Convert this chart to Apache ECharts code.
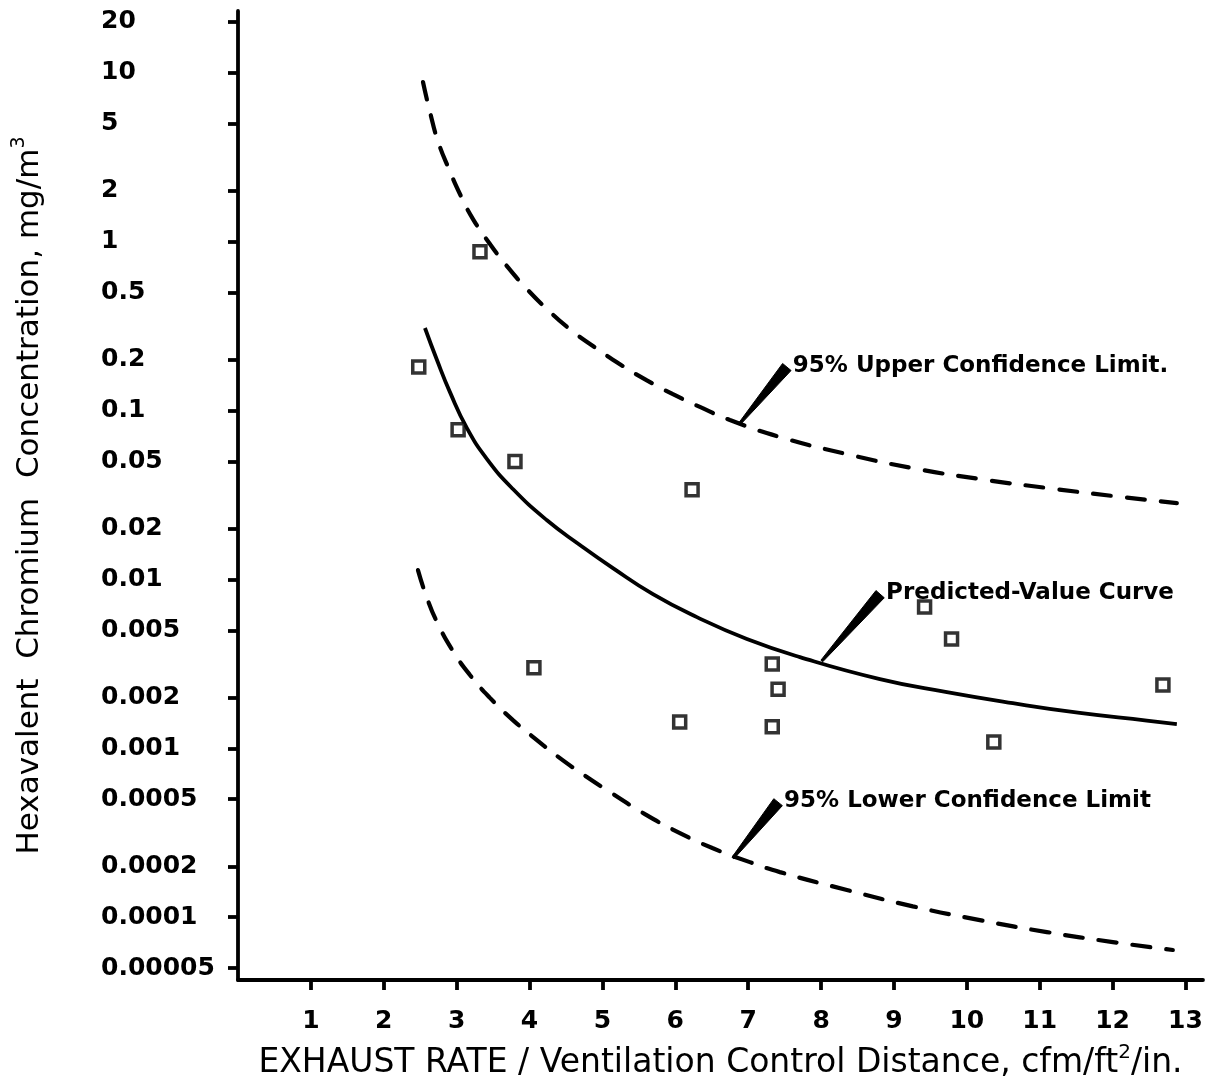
<!DOCTYPE html>
<html>
<head>
<meta charset="utf-8">
<script src="https://cdn.jsdelivr.net/npm/echarts@6/dist/echarts.min.js"></script>
<style>
html,body{margin:0;padding:0;background:#fff;}
#chart{width:1210px;height:1081px;}
</style>
</head>
<body>
<div id="chart"></div>
<script>
// ---------- data ----------
const xTicks = [1, 2, 3, 4, 5, 6, 7, 8, 9, 10, 11, 12, 13];
const yTicks = [20, 10, 5, 2, 1, 0.5, 0.2, 0.1, 0.05, 0.02, 0.01, 0.005, 0.002, 0.001, 0.0005, 0.0002, 0.0001, 0.00005];
const yTickLabels = ['20', '10', '5', '2', '1', '0.5', '0.2', '0.1', '0.05', '0.02', '0.01', '0.005', '0.002', '0.001', '0.0005', '0.0002', '0.0001', '0.00005'];

// observed concentrations (squares)
const obsX = [2.48, 3.32, 3.02, 3.80, 6.23, 4.06, 6.06, 7.33, 7.41, 7.33, 9.42, 9.79, 12.69, 10.37];
const obsY = [0.181, 0.87, 0.077, 0.050, 0.034, 0.0030, 0.00143, 0.00316, 0.00224, 0.00134, 0.00686, 0.00444, 0.00237, 0.00109];

// predicted-value curve (solid)
const predX = [2.565, 2.730, 2.908, 3.141, 3.416, 3.772, 4.239, 4.691, 5.144, 5.693, 6.296, 6.982, 7.709, 8.807, 9.726, 10.631, 11.550, 12.469, 12.881];
const predY = [0.308, 0.199, 0.1285, 0.0787, 0.0516, 0.0343, 0.0224, 0.0160, 0.01167, 0.00818, 0.00598, 0.00444, 0.00347, 0.00257, 0.00215, 0.00185, 0.00162, 0.00146, 0.00139];

// 95% upper confidence limit (dashed)
const uclX = [2.538, 2.634, 2.743, 2.894, 3.059, 3.224, 3.457, 3.690, 3.964, 4.239, 4.554, 4.870, 5.240, 5.610, 5.967, 6.337, 6.749, 7.435, 8.354, 9.259, 10.178, 11.097, 12.003, 12.881];
const uclY = [8.81, 5.85, 3.94, 2.69, 1.86, 1.36, 0.968, 0.716, 0.524, 0.399, 0.303, 0.241, 0.188, 0.151, 0.125, 0.105, 0.0879, 0.0697, 0.0552, 0.0456, 0.0393, 0.0348, 0.0312, 0.0283];

// 95% lower confidence limit (dashed)
const lclX = [2.469, 2.593, 2.743, 2.949, 3.182, 3.457, 3.772, 4.101, 4.417, 4.787, 5.103, 5.583, 6.063, 6.516, 7.023, 7.435, 8.354, 9.259, 10.178, 11.097, 12.003, 12.826];
const lclY = [0.01135, 0.00776, 0.00545, 0.00377, 0.00272, 0.00199, 0.00147, 0.00112, 0.000875, 0.000676, 0.000551, 0.000408, 0.000315, 0.000256, 0.000212, 0.000185, 0.000145, 0.000116, 0.0000962, 0.0000817, 0.0000713, 0.000064];

// callouts: pointer tip on curve -> label end
const calloutText = ['95% Upper Confidence Limit.', 'Predicted-Value Curve', '95% Lower Confidence Limit'];
const calloutTipX = [6.89, 8.01, 6.79];
const calloutTipY = [0.0843, 0.00329, 0.000224];
const calloutEndX = [7.53, 8.81, 7.41];
const calloutEndY = [0.181, 0.00818, 0.00048];

const xTitle = 'EXHAUST RATE / Ventilation Control Distance, cfm/ft{sup|2}/in.';
const yTitle = 'Hexavalent  Chromium  Concentration, mg/m{sup|3}';

// ---------- chart ----------
const zip = (a, b) => a.map((v, i) => [v, b[i]]);
const FONT = 'DejaVu Sans';
const BLACK = '#000';

const chart = echarts.init(document.getElementById('chart'), null, {renderer: 'canvas'});

const option = {
  backgroundColor: '#fff',
  animation: false,
  grid: {left: 238, right: 7, top: 11, bottom: 101, containLabel: false, outerBoundsMode: 'none'},
  xAxis: {
    type: 'value',
    min: 0,
    max: 13.24,
    axisLine: {show: true, onZero: false, lineStyle: {color: BLACK, width: 3.8}},
    axisTick: {show: true, customValues: xTicks, length: 10, lineStyle: {color: BLACK, width: 3.8}},
    axisLabel: {
      customValues: xTicks, margin: 29,
      fontFamily: FONT, fontWeight: 'bold', fontSize: 25, color: BLACK
    },
    splitLine: {show: false},
    name: xTitle,
    nameLocation: 'middle',
    nameGap: 63,
    nameTextStyle: {
      fontFamily: FONT, fontSize: 33, color: BLACK, lineHeight: 40,
      rich: {sup: {fontFamily: FONT, fontSize: 20, color: BLACK, verticalAlign: 'top', lineHeight: 22}}
    }
  },
  yAxis: {
    type: 'log',
    logBase: 10,
    min: 4.25e-5,
    max: 23.2,
    axisLine: {show: true, onZero: false, lineStyle: {color: BLACK, width: 3.8}},
    axisTick: {show: true, customValues: yTicks, length: 10, lineStyle: {color: BLACK, width: 3.8}},
    axisLabel: {
      customValues: yTicks, margin: 137, align: 'left',
      fontFamily: FONT, fontWeight: 'bold', fontSize: 25, color: BLACK,
      formatter: function (v) {
        let best = 0, bd = Infinity;
        yTicks.forEach((t, i) => { const d = Math.abs(Math.log10(t) - Math.log10(v)); if (d < bd) { bd = d; best = i; } });
        return yTickLabels[best];
      }
    },
    splitLine: {show: false},
    minorTick: {show: false},
    name: yTitle,
    nameLocation: 'middle',
    nameRotate: 90,
    nameGap: 188,
    nameTextStyle: {
      fontFamily: FONT, fontSize: 31, color: BLACK, lineHeight: 40,
      rich: {sup: {fontFamily: FONT, fontSize: 19, color: BLACK, verticalAlign: 'top', lineHeight: 22}}
    }
  },
  series: [
    {
      name: 'Predicted', type: 'line', data: zip(predX, predY), showSymbol: false, smooth: 0.5,
      lineStyle: {color: BLACK, width: 3.8}, z: 2
    },
    {
      name: 'UCL', type: 'line', data: zip(uclX, uclY), showSymbol: false, smooth: 0.5,
      lineStyle: {color: BLACK, width: 4.2, type: [18, 16], cap: 'round'}, z: 2
    },
    {
      name: 'LCL', type: 'line', data: zip(lclX, lclY), showSymbol: false, smooth: 0.5,
      lineStyle: {color: BLACK, width: 4.2, type: [18, 16], cap: 'round'}, z: 2
    },
    {
      name: 'Observed', type: 'scatter', data: zip(obsX, obsY), symbol: 'rect', symbolSize: 12,
      itemStyle: {color: '#fff', borderColor: BLACK, borderWidth: 3.5}, z: 4
    },
    {
      name: 'Callouts', type: 'custom', clip: false, z: 5,
      data: calloutText.map((t, i) => [calloutTipX[i], calloutTipY[i], calloutEndX[i], calloutEndY[i]]),
      renderItem: function (params, api) {
        const tip = api.coord([api.value(0), api.value(1)]);
        const end = api.coord([api.value(2), api.value(3)]);
        const dx = end[0] - tip[0], dy = end[1] - tip[1];
        const len = Math.sqrt(dx * dx + dy * dy);
        const nx = -dy / len, ny = dx / len;
        const w0 = 1.2, w1 = 5.5;
        const pts = [
          [tip[0] + nx * w0, tip[1] + ny * w0],
          [end[0] + nx * w1, end[1] + ny * w1],
          [end[0] - nx * w1, end[1] - ny * w1],
          [tip[0] - nx * w0, tip[1] - ny * w0]
        ];
        return {
          type: 'group',
          children: [
            {type: 'polygon', shape: {points: pts}, style: {fill: BLACK, stroke: BLACK, lineWidth: 1}},
            {
              type: 'text',
              style: {
                text: calloutText[params.dataIndex],
                x: end[0] + 6, y: end[1] - 1,
                align: 'left', verticalAlign: 'middle',
                textAlign: 'left', textVerticalAlign: 'middle',
                fontFamily: FONT, fontWeight: 'bold', fontSize: 23, fill: BLACK
              }
            }
          ]
        };
      }
    }
  ]
};

chart.setOption(option);
</script>
</body>
</html>
